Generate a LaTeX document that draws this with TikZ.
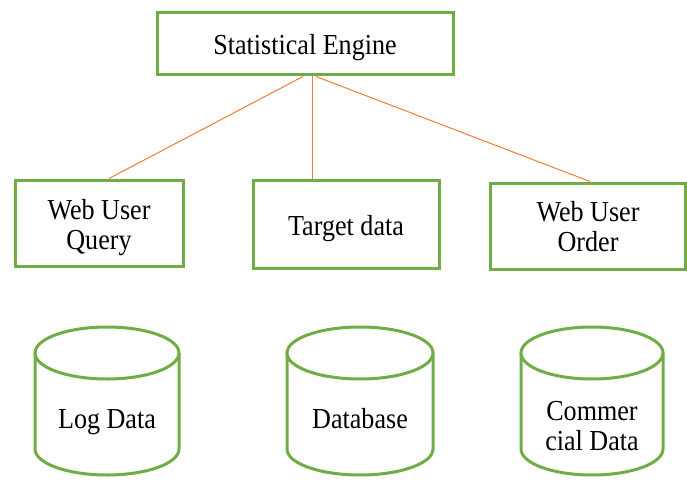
\documentclass[tikz,border=0pt]{standalone}
\usepackage{fontspec}
\setmainfont{Liberation Serif}[FakeStretch=0.9]
\usetikzlibrary{calc}
\definecolor{boxgreen}{HTML}{70AD47}
\definecolor{linkorange}{HTML}{ED7D31}
\begin{document}
\begin{tikzpicture}[x=1pt,y=-1pt,
  box/.style={draw=boxgreen,line width=3pt,rectangle,inner sep=0pt},
  link/.style={draw=linkorange,line width=1pt},
  cyl/.style={draw=boxgreen,line width=3pt},
  lbl/.style={align=center,inner sep=0pt,font=\fontsize{29}{30}\selectfont}]
\useasboundingbox (0,0) rectangle (687,484);
\node[box,minimum width=296pt,minimum height=62pt,
  label={[lbl,yshift=-4pt]center:{Statistical Engine}}] (se) at (305,44) {};
\node[box,minimum width=168pt,minimum height=86pt,
  label={[lbl,yshift=-5pt]center:{Web User\\Query}}] (q) at (99,223) {};
\node[box,minimum width=186pt,minimum height=88pt,
  label={[lbl,yshift=-5pt]center:{Target data}}] (t) at (346,224) {};
\node[box,minimum width=195pt,minimum height=86pt,
  label={[lbl,yshift=-1pt]center:{Web User\\Order}}] (o) at (588,226) {};
\draw[link] ([xshift=-2pt]se.south) -- ([xshift=10pt]q.north);
\draw[link] ([xshift=7pt]se.south) -- ([xshift=-34pt]t.north);
\draw[link] ([xshift=11pt]se.south) -- ([xshift=2pt]o.north);
% cylinders
\foreach \cx/\rx in {107/72, 360/73, 592/71}{
  \draw[cyl] (\cx-\rx,353) -- (\cx-\rx,449) arc[start angle=180,end angle=360,x radius=\rx,y radius=-26] -- (\cx+\rx,353);
  \draw[cyl] (\cx,353) ellipse[x radius=\rx,y radius=26];
}
\node[lbl] (ld) at (107,422) {Log Data};
\node[lbl] (db) at (360,419) {Database};
\node[lbl] (cd) at (592,426) {Commer\\cial Data};
\end{tikzpicture}
\end{document}
